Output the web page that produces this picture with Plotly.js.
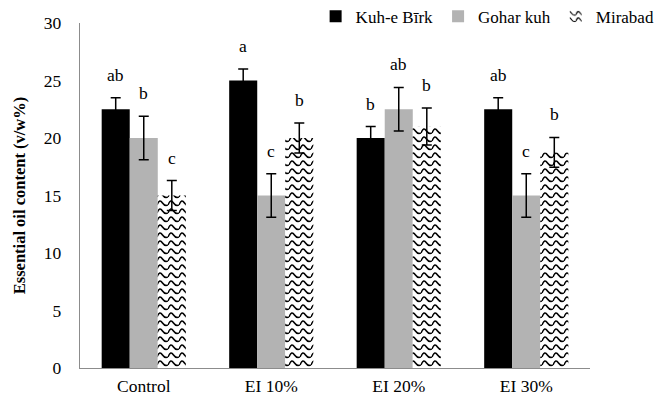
<!DOCTYPE html>
<html>
<head>
<meta charset="utf-8">
<script src="https://cdn.plot.ly/plotly-3.0.1.min.js"></script>
<style>html,body{margin:0;padding:0;background:#fff;}#chart{width:655px;height:400px;}</style>
</head>
<body>
<div id="chart"></div>
<script>
const categories = ["Control", "EI 10%", "EI 20%", "EI 30%"];
const seriesNames = ["Kuh-e B\u012brk", "Gohar kuh", "Mirabad"];
const kuhValues = [22.5, 25, 20, 22.5];
const kuhErrors = [1, 1, 1, 1];
const goharValues = [20, 15, 22.5, 15];
const goharErrors = [1.9, 1.9, 1.9, 1.9];
const mirabadValues = [15, 20, 21, 18.75];
const mirabadErrors = [1.3, 1.3, 1.6, 1.3];
const kuhLetters = ["ab", "a", "b", "ab"];
const goharLetters = ["b", "c", "ab", "c"];
const mirabadLetters = ["c", "b", "b", "b"];
const yTicks = [0, 5, 10, 15, 20, 25, 30];

const FONT = "'Liberation Serif', 'Times New Roman', serif";
const FS = 17.5;
const errStyle = (arr) => ({type: "data", array: arr, visible: true, color: "#000", thickness: 1.5, width: 5});

const traces = [
  {type: "bar", name: seriesNames[0], x: categories, y: kuhValues, error_y: errStyle(kuhErrors),
   marker: {color: "#000000"}},
  {type: "bar", name: seriesNames[1], x: categories, y: goharValues, error_y: errStyle(goharErrors),
   marker: {color: "#b3b3b3"}},
  {type: "bar", name: seriesNames[2], x: categories, y: mirabadValues, error_y: errStyle(mirabadErrors),
   marker: {color: "#ffffff", pattern: {shape: "-", fgcolor: "#000", bgcolor: "#fff", size: 8, solidity: 0.2}}}
];

const margin = {l: 80, r: 65, t: 23, b: 32, autoexpand: false};
const plotW = 655 - margin.l - margin.r;
const bargap = 0.34;
const barPx = plotW / categories.length * (1 - bargap) / 3;

const annotations = [];
const letterSets = [kuhLetters, goharLetters, mirabadLetters];
const valSets = [kuhValues, goharValues, mirabadValues];
const errSets = [kuhErrors, goharErrors, mirabadErrors];
for (let s = 0; s < 3; s++) {
  for (let i = 0; i < categories.length; i++) {
    annotations.push({
      x: categories[i], y: valSets[s][i] + errSets[s][i], xref: "x", yref: "y",
      text: letterSets[s][i], showarrow: false, xshift: (s - 1) * barPx, yshift: 11,
      yanchor: "bottom", font: {family: FONT, size: FS, color: "#000"}
    });
  }
}

const layout = {
  width: 655, height: 400, margin: margin,
  paper_bgcolor: "#fff", plot_bgcolor: "#fff",
  barmode: "group", bargap: bargap, bargroupgap: 0,
  font: {family: FONT, size: FS, color: "#000"},
  showlegend: true,
  legend: {orientation: "h", x: 0.462, xanchor: "left", y: 1.018, yanchor: "middle",
           font: {family: FONT, size: 17, color: "#000"}, itemwidth: 30, tracegroupgap: 0,
           bgcolor: "rgba(0,0,0,0)"},
  xaxis: {showline: true, linecolor: "#8c8c8c", linewidth: 1.3, ticks: "", showgrid: false,
          tickfont: {family: FONT, size: FS}, automargin: false, ticklabelstandoff: 2},
  yaxis: {range: [0, 30], tickvals: yTicks, showline: true, linecolor: "#8c8c8c", linewidth: 1.3,
          ticks: "", showgrid: false, zeroline: false, ticklabelstandoff: 14,
          tickfont: {family: FONT, size: FS}, automargin: false,
          title: {text: "<b>Essential oil content (v/w%)</b>", font: {family: FONT, size: 16.5}, standoff: 14}},
  annotations: annotations
};

Plotly.newPlot("chart", traces, layout, {displayModeBar: false, staticPlot: true}).then(function (gd) {
  // Replace the horizontal-line pattern with a wavy line pattern
  const pats = gd.querySelectorAll("pattern");
  pats.forEach(function (p) {
    p.setAttribute("width", "11");
    p.setAttribute("height", "8");
    while (p.firstChild) p.removeChild(p.firstChild);
    const ns = "http://www.w3.org/2000/svg";
    const bg = document.createElementNS(ns, "rect");
    bg.setAttribute("width", "11"); bg.setAttribute("height", "8"); bg.setAttribute("fill", "#fff");
    p.appendChild(bg);
    const path = document.createElementNS(ns, "path");
    path.setAttribute("d", "M0,6 C2,1 3.5,1 5.5,4 C7.5,7 9,7 11,6");
    path.setAttribute("fill", "none");
    path.setAttribute("stroke", "#000");
    path.setAttribute("stroke-width", "1.5");
    p.appendChild(path);
  });
});
</script>
</body>
</html>
